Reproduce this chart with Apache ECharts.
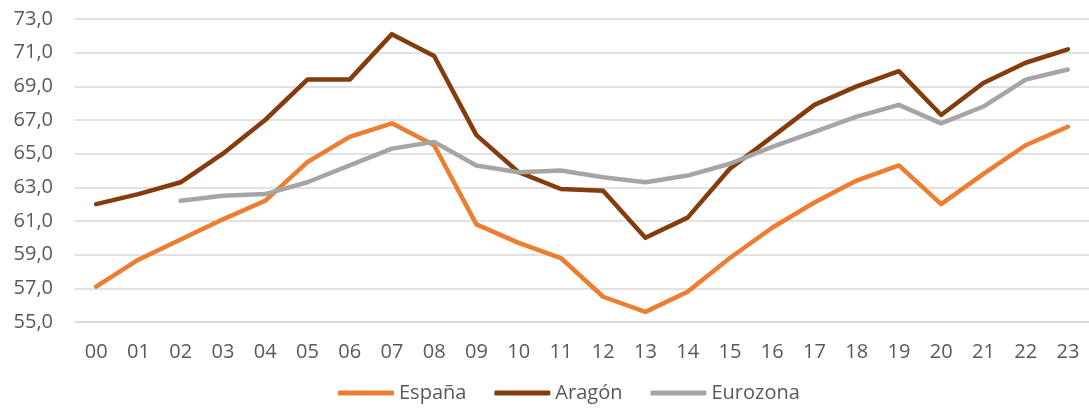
<!DOCTYPE html>
<html>
<head>
<meta charset="utf-8">
<script src="https://cdn.jsdelivr.net/npm/echarts@6/dist/echarts.min.js"></script>
<style>
  html, body { margin: 0; padding: 0; background: #fff; }
  #chart { width: 1089px; height: 420px; }
</style>
</head>
<body>
<div id="chart"></div>
<script>
// años (00 = 2000 ... 23 = 2023)
const years = ['00', '01', '02', '03', '04', '05', '06', '07', '08', '09', '10', '11',
  '12', '13', '14', '15', '16', '17', '18', '19', '20', '21', '22', '23']

const espana = [57.1, 58.7, 59.9, 61.1, 62.2, 64.5, 66.0, 66.8, 65.5, 60.8, 59.7, 58.8,
  56.5, 55.6, 56.8, 58.8, 60.6, 62.1, 63.4, 64.3, 62.0, 63.8, 65.5, 66.6]

const aragon = [62.0, 62.6, 63.3, 65.0, 67.0, 69.4, 69.4, 72.1, 70.8, 66.1, 63.9, 62.9,
  62.8, 60.0, 61.2, 64.1, 66.0, 67.9, 69.0, 69.9, 67.3, 69.2, 70.4, 71.2]

// sin dato para 00 y 01
const eurozona = [null, null, 62.2, 62.5, 62.6, 63.3, 64.3, 65.3, 65.7, 64.3, 63.9, 64.0,
  63.6, 63.3, 63.7, 64.4, 65.4, 66.3, 67.2, 67.9, 66.8, 67.8, 69.4, 70.0]

const font = '"Open Sans", sans-serif'
const textColor = '#595959'

const chart = echarts.init(document.getElementById('chart'))

// serie común
const makeSeries = (name, data, color) => ({
  name,
  type: 'line',
  data,
  showSymbol: false,
  symbol: 'none',
  connectNulls: false,
  animation: false,
  itemStyle: { color },
  lineStyle: { color, width: 4.5, cap: 'round', join: 'round' }
})

chart.setOption({
  animation: false,
  grid: {
    left: 75,
    right: -9,
    top: 19,
    bottom: 98,
    containLabel: false
  },
  legend: {
    bottom: 12,
    left: 333,
    itemWidth: 56,
    itemHeight: 5,
    itemGap: 28,
    icon: 'roundRect',
    textStyle: { color: textColor, fontSize: 20, fontFamily: font },
    data: ['España', 'Aragón', 'Eurozona']
  },
  xAxis: {
    type: 'category',
    data: years,
    boundaryGap: true,
    axisLine: { show: true, lineStyle: { color: '#d9d9d9', width: 1.5 } },
    axisTick: { show: false },
    axisLabel: { color: textColor, fontSize: 20, fontFamily: font, margin: 20 }
  },
  yAxis: {
    type: 'value',
    min: 55,
    max: 73,
    interval: 2,
    axisLine: { show: false },
    axisTick: { show: false },
    splitLine: { lineStyle: { color: '#d9d9d9', width: 1.5 } },
    axisLabel: {
      color: textColor,
      fontSize: 20,
      fontFamily: font,
      margin: 22,
      formatter: v => v.toFixed(1).replace('.', ',')
    }
  },
  series: [
    makeSeries('España', espana, '#ED7D31'),
    makeSeries('Aragón', aragon, '#843C0C'),
    makeSeries('Eurozona', eurozona, '#A5A5A5')
  ]
})
</script>
</body>
</html>
